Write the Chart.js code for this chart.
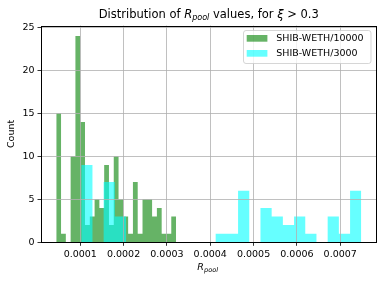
<!DOCTYPE html>
<html>
<head>
<meta charset="utf-8">
<script src="https://cdn.jsdelivr.net/npm/chart.js@4"></script>
<style>
    html, body { margin: 0; padding: 0; background: #fff; }
    #wrap { width: 382px; height: 285px; position: relative; }
</style>
</head>
<body>
<div id="wrap"><canvas id="histChart"></canvas></div>
<script>
// histogram bins
const greenStart = 0.0000446;
const greenWidth = 0.00001106;
const greenCounts = [15, 1, 0, 10, 24, 14, 2, 3, 5, 4, 9, 2, 10, 5, 3, 1, 7, 1, 5, 5, 3, 4, 1, 1, 3];

const cyanStart = 0.0001023;
const cyanWidth = 0.00002585;
const cyanCounts = [9, 0, 7, 3, 0, 0, 0, 0, 0, 0, 0, 0, 1, 1, 6, 0, 4, 3, 2, 3, 1, 0, 3, 1, 6];

const seriesLabels = ["SHIB-WETH/10000", "SHIB-WETH/3000"];
const seriesColors = ["rgba(0, 128, 0, 0.6)", "rgba(0, 255, 255, 0.6)"];

const xTicks = [0.0001, 0.0002, 0.0003, 0.0004, 0.0005, 0.0006, 0.0007];
const yTicks = [0, 5, 10, 15, 20, 25];

const FONT = "DejaVu Sans";

window.onload = () => {
    // outline of a histogram as a stepped line: one point per left bin edge
    function stepPoints(start, width, counts) {
        const pts = [{ x: start, y: 0 }];
        counts.forEach((c, i) => pts.push({ x: start + i * width, y: c }));
        pts.push({ x: start + counts.length * width, y: 0 });
        return pts;
    }

    function drawRich(ctx, parts, cx, baseline, size) {
        const fontFor = (p) => (p.italic ? "italic " : "") + (size * (p.scale || 1)) + "px '" + FONT + "'";
        let total = 0;
        parts.forEach((p) => {
            ctx.font = fontFor(p);
            p.w = ctx.measureText(p.text).width;
            total += p.w;
        });
        let x = cx - total / 2;
        ctx.fillStyle = "#000";
        ctx.textAlign = "left";
        ctx.textBaseline = "alphabetic";
        parts.forEach((p) => {
            ctx.font = fontFor(p);
            ctx.fillText(p.text, x, baseline + (p.dy || 0) * size);
            x += p.w;
        });
    }

    const decorations = {
        id: "decorations",
        afterDraw(chart) {
            const ctx = chart.ctx;
            const area = chart.chartArea;
            ctx.save();

            // spines
            const l = Math.round(area.left) + 0.5;
            const r = Math.round(area.right) - 0.5;
            const t = Math.round(area.top) + 0.5;
            const b = Math.floor(area.bottom) + 0.5;
            ctx.strokeStyle = "#000";
            ctx.lineWidth = 1;
            ctx.strokeRect(l, t, r - l, b - t);

            // title
            drawRich(ctx, [
                { text: "Distribution of " },
                { text: "R", italic: true },
                { text: "pool", italic: true, scale: 0.7, dy: 0.2 },
                { text: " values, for " },
                { text: "\u03be", italic: true },
                { text: " > 0.3" },
            ], (area.left + area.right) / 2, 17.5, 11.5);

            // x axis label
            drawRich(ctx, [
                { text: "R", italic: true },
                { text: "pool", italic: true, scale: 0.7, dy: 0.2 },
            ], (area.left + area.right) / 2 - 1, 270, 9.5);

            // legend, upper right inside the axes
            const lx = 243.5, ly = 30.5, lw = 127.5, lh = 33;
            ctx.beginPath();
            ctx.roundRect(lx, ly, lw, lh, 2.5);
            ctx.fillStyle = "rgba(255, 255, 255, 0.8)";
            ctx.fill();
            ctx.strokeStyle = "rgba(204, 204, 204, 0.8)";
            ctx.stroke();
            chart.data.datasets.forEach((ds, i) => {
                const rowY = 38.3 + i * 15;
                ctx.fillStyle = ds.backgroundColor;
                ctx.fillRect(246.7, rowY - 3.3, 20.7, 6.7);
                ctx.fillStyle = "#000";
                ctx.font = "9.5px '" + FONT + "'";
                ctx.textAlign = "left";
                ctx.textBaseline = "middle";
                ctx.fillText(ds.label, 276.3, rowY + 0.5);
            });
            ctx.restore();
        },
    };

    const tickFont = { family: FONT, size: 9.5 };

    const config = {
        type: "line",
        data: {
            datasets: [
                {
                    label: seriesLabels[0],
                    data: stepPoints(greenStart, greenWidth, greenCounts),
                    stepped: true,
                    fill: "origin",
                    backgroundColor: seriesColors[0],
                    borderColor: "rgba(0, 0, 0, 0)",
                    borderWidth: 0,
                    pointRadius: 0,
                    order: 1,
                },
                {
                    label: seriesLabels[1],
                    data: stepPoints(cyanStart, cyanWidth, cyanCounts),
                    stepped: true,
                    fill: "origin",
                    backgroundColor: seriesColors[1],
                    borderColor: "rgba(0, 0, 0, 0)",
                    borderWidth: 0,
                    pointRadius: 0,
                    order: 0,
                },
            ],
        },
        options: {
            responsive: true,
            maintainAspectRatio: false,
            animation: false,
            events: [],
            layout: { padding: { left: 0, right: 5.5, top: 25.6, bottom: 0 } },
            plugins: {
                legend: { display: false },
                tooltip: { enabled: false },
            },
            scales: {
                x: {
                    type: "linear",
                    min: 0.0000094,
                    max: 0.0007837,
                    afterBuildTicks: (s) => { s.ticks = xTicks.map((v) => ({ value: v })); },
                    afterFit: (s) => { s.height = 42.7; },
                    ticks: {
                        callback: (v) => Number(v).toFixed(4),
                        color: "#000",
                        font: tickFont,
                        padding: 3,
                        maxRotation: 0,
                        autoSkip: false,
                    },
                    grid: { color: "#b0b0b0", lineWidth: 0.8, tickColor: "#000", tickLength: 3.5, z: 1 },
                    border: { display: false },
                },
                y: {
                    min: 0,
                    max: 25.2,
                    afterBuildTicks: (s) => { s.ticks = yTicks.map((v) => ({ value: v })); },
                    afterFit: (s) => { s.width = 41; },
                    ticks: { color: "#000", font: tickFont, padding: 3 },
                    grid: { color: "#b0b0b0", lineWidth: 0.8, tickColor: "#000", tickLength: 3.5, z: 1 },
                    border: { display: false },
                    title: {
                        display: true,
                        text: "Count",
                        color: "#000",
                        font: { family: FONT, size: 9.5 },
                        padding: { top: 6, bottom: 0 },
                    },
                },
            },
        },
        plugins: [decorations],
    };

    new Chart(document.getElementById("histChart"), config);
};
</script>
</body>
</html>
